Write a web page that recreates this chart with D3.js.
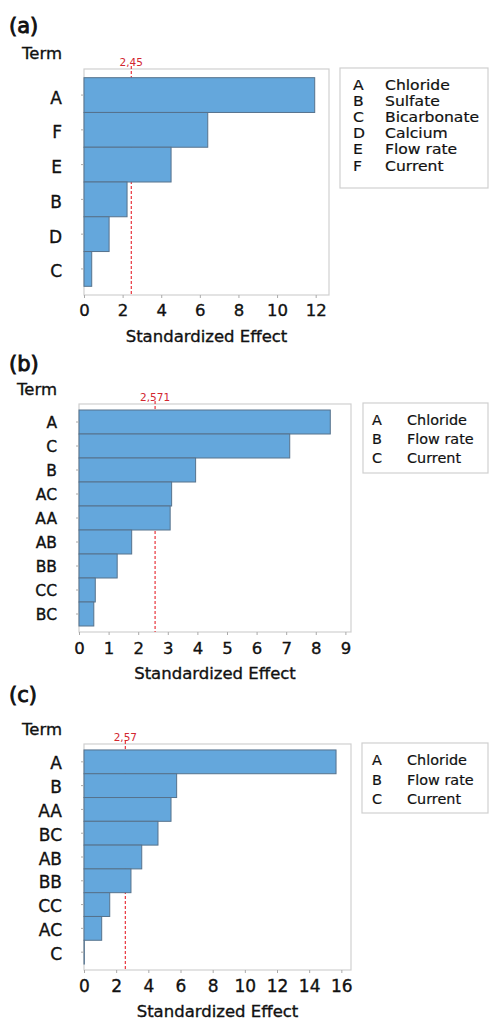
<!DOCTYPE html>
<html>
<head>
<meta charset="utf-8">
<script src="https://cdn.jsdelivr.net/npm/d3@7"></script>
<style>
  body { margin: 0; background: #fff; }
  text { font-family: "DejaVu Sans", "Open Sans", sans-serif; fill: #111; }
  text.dark { stroke: #111; stroke-width: 0.35px; }
</style>
</head>
<body>
<svg></svg>
<script>
// data
let termsA = ['A', 'F', 'E', 'B', 'D', 'C'];
let effectsA = [11.95, 6.41, 4.51, 2.23, 1.30, 0.40];
let ticksA = [0, 2, 4, 6, 8, 10, 12];
let critA = 2.45, critLabelA = '2,45';
let factorsA = ['A', 'B', 'C', 'D', 'E', 'F'];
let namesA = ['Chloride', 'Sulfate', 'Bicarbonate', 'Calcium', 'Flow rate', 'Current'];

let termsB = ['A', 'C', 'B', 'AC', 'AA', 'AB', 'BB', 'CC', 'BC'];
let effectsB = [8.49, 7.12, 3.94, 3.13, 3.08, 1.78, 1.29, 0.55, 0.50];
let ticksB = [0, 1, 2, 3, 4, 5, 6, 7, 8, 9];
let critB = 2.571, critLabelB = '2,571';

let termsC = ['A', 'B', 'AA', 'BC', 'AB', 'BB', 'CC', 'AC', 'C'];
let effectsC = [15.67, 5.76, 5.41, 4.60, 3.59, 2.92, 1.60, 1.10, 0.02];
let ticksC = [0, 2, 4, 6, 8, 10, 12, 14, 16];
let critC = 2.57, critLabelC = '2,57';

let factorsBC = ['A', 'B', 'C'];
let namesBC = ['Chloride', 'Flow rate', 'Current'];

// layout of each panel (frame box, legend box, font sizes)
let panels = [
  { tag: '(a)', terms: termsA, effects: effectsA, ticks: ticksA, max: 12.69,
    crit: critA, critLabel: critLabelA, factors: factorsA, names: namesA,
    frame: { left: 84, right: 329, top: 69, bottom: 295 },
    legend: { left: 340, top: 68, bottom: 188, letterX: 353, nameX: 385, first: 90, step: 16.1, size: 13.8, sx: 1.13 },
    tagY: 33, termY: 59, labelRight: 62, yFont: 17, yDy: '0.5em', xFont: 16.5, xPad: 6 },
  { tag: '(b)', terms: termsB, effects: effectsB, ticks: ticksB, max: 9.19,
    crit: critB, critLabel: critLabelB, factors: factorsBC, names: namesBC,
    frame: { left: 79, right: 351, top: 404, bottom: 632 },
    legend: { left: 363, top: 403, bottom: 473, letterX: 372, nameX: 407, first: 425, step: 19.2, size: 14.4, sx: 1 },
    tagY: 371, termY: 395, labelRight: 57, yFont: 15.5, yDy: '0.38em', xFont: 16.5, xPad: 7 },
  { tag: '(c)', terms: termsC, effects: effectsC, ticks: ticksC, max: 16.6,
    crit: critC, critLabel: critLabelC, factors: factorsBC, names: namesBC,
    frame: { left: 84, right: 351, top: 744, bottom: 970 },
    legend: { left: 362, top: 743, bottom: 813, letterX: 372, nameX: 407, first: 765, step: 19.5, size: 14.4, sx: 1 },
    tagY: 702, termY: 735, labelRight: 62, yFont: 17, yDy: '0.45em', xFont: 17, xPad: 6.5 }
];

let svg = d3.select('svg');
svg.attr('width', 489);
svg.attr('height', 1020);

panels.forEach(function(p) {
  let g = svg.append('g');
  let f = p.frame;

  let x = d3.scaleLinear().domain([0, p.max]).range([f.left, f.right]);
  let y = d3.scaleBand().domain(p.terms).range([f.top, f.bottom])
    .paddingInner(0).paddingOuter(0.25);

  // panel tag and "Term" heading
  g.append('text').attr('x', 9).attr('y', p.tagY)
    .style('font-size', '21px').style('stroke', '#111').style('stroke-width', '0.9px')
    .text(p.tag);
  g.append('text').attr('class', 'dark').attr('x', p.labelRight).attr('y', p.termY)
    .attr('text-anchor', 'end').style('font-size', '16.5px').text('Term');

  // frame
  g.append('rect')
    .attr('x', f.left).attr('y', f.top)
    .attr('width', f.right - f.left).attr('height', f.bottom - f.top)
    .attr('fill', 'none').attr('stroke', '#d0d0d0').attr('stroke-width', 1.2);

  // reference line (behind the bars)
  g.append('line')
    .attr('x1', x(p.crit)).attr('x2', x(p.crit))
    .attr('y1', f.top - 3).attr('y2', f.bottom)
    .attr('stroke', '#e8343c').attr('stroke-width', 1.2)
    .attr('stroke-dasharray', '3,2');
  g.append('text').attr('x', x(p.crit)).attr('y', f.top - 3)
    .attr('text-anchor', 'middle').style('font-size', '10.5px')
    .style('fill', '#d22630').text(p.critLabel);

  // bars
  g.selectAll('rect.bar').data(p.terms).enter().append('rect')
    .attr('class', 'bar')
    .attr('x', x(0))
    .attr('y', d => y(d))
    .attr('width', (d, i) => x(p.effects[i]) - x(0))
    .attr('height', y.bandwidth())
    .attr('fill', '#64a7dc').attr('stroke', '#56728c').attr('stroke-width', 1);

  // y axis: ticks + labels, no domain line
  let yAxis = g.append('g').attr('transform', 'translate(' + f.left + ',0)')
    .call(d3.axisLeft(y).tickSize(3));
  yAxis.select('.domain').remove();
  yAxis.selectAll('line').attr('stroke', '#aaa');
  yAxis.selectAll('text').attr('class', 'dark').attr('x', p.labelRight - f.left)
    .style('font-size', p.yFont + 'px').attr('dy', p.yDy);

  // x axis
  let xAxis = g.append('g').attr('transform', 'translate(0,' + f.bottom + ')')
    .call(d3.axisBottom(x).tickValues(p.ticks).tickSize(3).tickPadding(p.xPad));
  xAxis.select('.domain').remove();
  xAxis.selectAll('line').attr('stroke', '#aaa');
  xAxis.selectAll('text').attr('class', 'dark').style('font-size', p.xFont + 'px');

  g.append('text').attr('class', 'dark').attr('x', (f.left + f.right) / 2).attr('y', f.bottom + 46.5)
    .attr('text-anchor', 'middle').style('font-size', '16.5px').text('Standardized Effect');

  // legend box
  let L = p.legend;
  g.append('rect')
    .attr('x', L.left).attr('y', L.top)
    .attr('width', 488 - L.left).attr('height', L.bottom - L.top)
    .attr('fill', 'none').attr('stroke', '#d0d0d0').attr('stroke-width', 1.2);
  p.factors.forEach(function(k, i) {
    let yy = L.first + i * L.step;
    g.append('text').attr('class', 'dark')
      .attr('transform', 'translate(' + L.letterX + ',' + yy + ') scale(' + L.sx + ',1)')
      .style('font-size', L.size + 'px').style('stroke-width', '0.2px').text(k);
    g.append('text').attr('class', 'dark')
      .attr('transform', 'translate(' + L.nameX + ',' + yy + ') scale(' + L.sx + ',1)')
      .style('font-size', L.size + 'px').style('stroke-width', '0.2px').text(p.names[i]);
  });
});
</script>
</body>
</html>
